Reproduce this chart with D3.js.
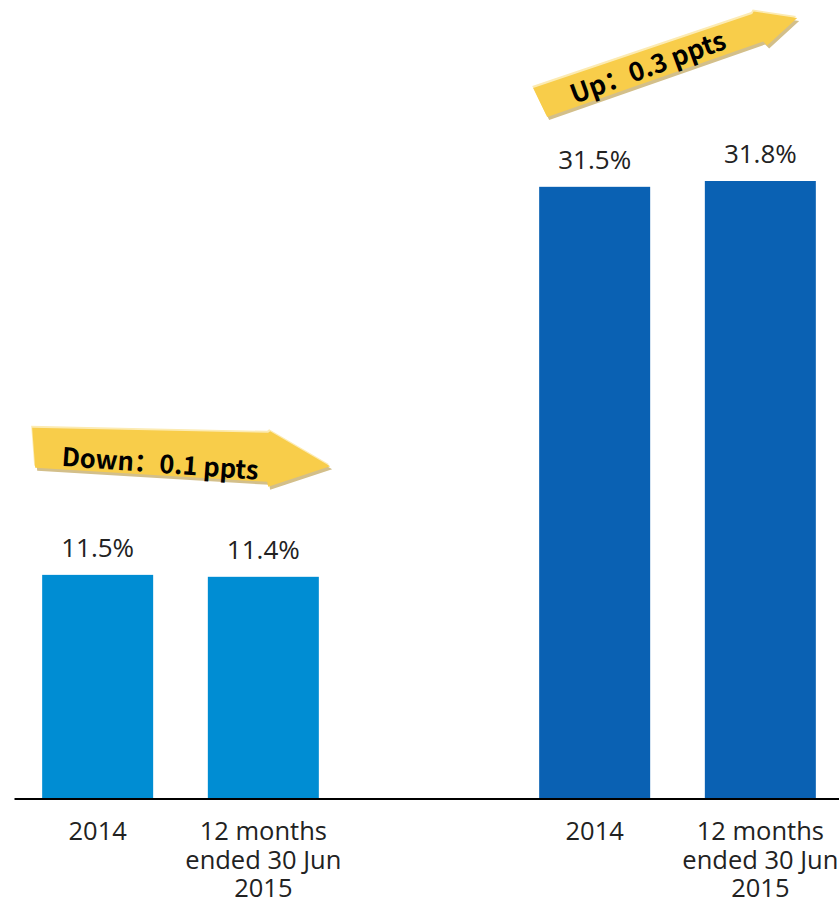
<!DOCTYPE html>
<html>
<head>
<meta charset="utf-8">
<script src="https://cdn.jsdelivr.net/npm/d3@7"></script>
<style>
  html, body { margin: 0; padding: 0; background: #ffffff; }
  svg { display: block; }
  text { font-family: "Open Sans", "Noto Sans", sans-serif; }
  .note { font-family: "Noto Sans CJK SC", "Noto Sans", sans-serif; }
</style>
</head>
<body>
<svg id="chart" width="839" height="902"></svg>
<script>
// Periods shown under each pair of bars
const periods = ["2014", "12 months\nended 30 Jun\n2015"];
// Left pair of bars (%)
const seriesA = [11.5, 11.4];
// Right pair of bars (%)
const seriesB = [31.5, 31.8];
// Change annotations
const changeLabels = ["Down\uFF1A0.1 ppts", "Up\uFF1A0.3 ppts"];

const colorA = "#008DD3";
const colorB = "#0A61B3";

const svg = d3.select("#chart");

// Five slots: two bars, an empty spacer, two bars
const slots = ["A0", "A1", "gap", "B0", "B1"];
const bars = [
  ...seriesA.map((v, i) => ({ slot: "A" + i, value: v, period: periods[i], color: colorA })),
  ...seriesB.map((v, i) => ({ slot: "B" + i, value: v, period: periods[i], color: colorB }))
];

const x = d3.scaleBand()
  .domain(slots)
  .range([14, 844])
  .paddingInner(0.33)
  .paddingOuter(0.17);

const baseY = 798;
const y = d3.scaleLinear()
  .domain([0, d3.max(bars, d => d.value)])
  .range([baseY, 181]);

// Bars
svg.append("g").selectAll("rect")
  .data(bars)
  .join("rect")
  .attr("x", d => x(d.slot))
  .attr("y", d => y(d.value))
  .attr("width", x.bandwidth())
  .attr("height", d => baseY - y(d.value))
  .attr("fill", d => d.color);

// Value labels
svg.append("g").selectAll("text")
  .data(bars)
  .join("text")
  .attr("x", d => x(d.slot) + x.bandwidth() / 2)
  .attr("y", d => y(d.value) - 18)
  .attr("text-anchor", "middle")
  .attr("font-size", 26)
  .attr("fill", "#222")
  .text(d => d.value.toFixed(1) + "%");

// Baseline axis
const axis = svg.append("g")
  .attr("transform", `translate(0,${baseY + 0.5})`)
  .call(d3.axisBottom(x).tickSize(0).tickSizeOuter(0).tickFormat(""));
axis.select(".domain").attr("stroke", "#000").attr("stroke-width", 1.8);

// Category labels (multi-line)
const cat = svg.append("g").selectAll("text")
  .data(bars)
  .join("text")
  .attr("x", d => x(d.slot) + x.bandwidth() / 2)
  .attr("y", baseY + 42)
  .attr("text-anchor", "middle")
  .attr("font-size", 25.5)
  .attr("fill", "#222");
cat.selectAll("tspan")
  .data(d => d.period.split("\n").map(line => ({ line, cx: x(d.slot) + x.bandwidth() / 2 })))
  .join("tspan")
  .attr("x", t => t.cx)
  .attr("dy", (t, i) => i === 0 ? 0 : 28.5)
  .text(t => t.line);

// Yellow change arrows, positioned relative to the first bar of each pair
const arrows = [
  {
    origin: [x("A0"), y(d3.max(seriesA))],
    pts: [[-10, -147], [226, -142], [228, -143.5], [288, -108.5], [226, -88], [225, -93], [-7, -107]],
    text: changeLabels[0], tx: 19, ty: -109, angle: 4, size: 25.5
  },
  {
    origin: [x("B0"), y(d3.max(seriesB))],
    pts: [[-6, -93], [213, -167], [214.5, -169.5], [258, -163], [228, -135.5], [224, -139.5], [8, -64]],
    text: changeLabels[1], tx: 35, ty: -77, angle: -20, size: 26
  }
];

const line = d3.line();
arrows.forEach(a => {
  const g = svg.append("g").attr("transform", `translate(${a.origin[0]},${a.origin[1]})`);
  const shift = (dx, dy) => a.pts.map(p => [p[0] + dx, p[1] + dy]);
  g.append("path").attr("d", line(shift(-1, -2)) + "Z").attr("fill", "#FCEBB3");
  g.append("path").attr("d", line(shift(2, 3)) + "Z").attr("fill", "#D3BF8A");
  g.append("path").attr("d", line(a.pts) + "Z").attr("fill", "#F8CD4A");
  g.append("text")
    .attr("class", "note")
    .attr("transform", `translate(${a.tx},${a.ty}) rotate(${a.angle})`)
    .attr("font-size", a.size)
    .attr("font-weight", 700)
    .attr("fill", "#000")
    .text(a.text);
});
</script>
</body>
</html>
